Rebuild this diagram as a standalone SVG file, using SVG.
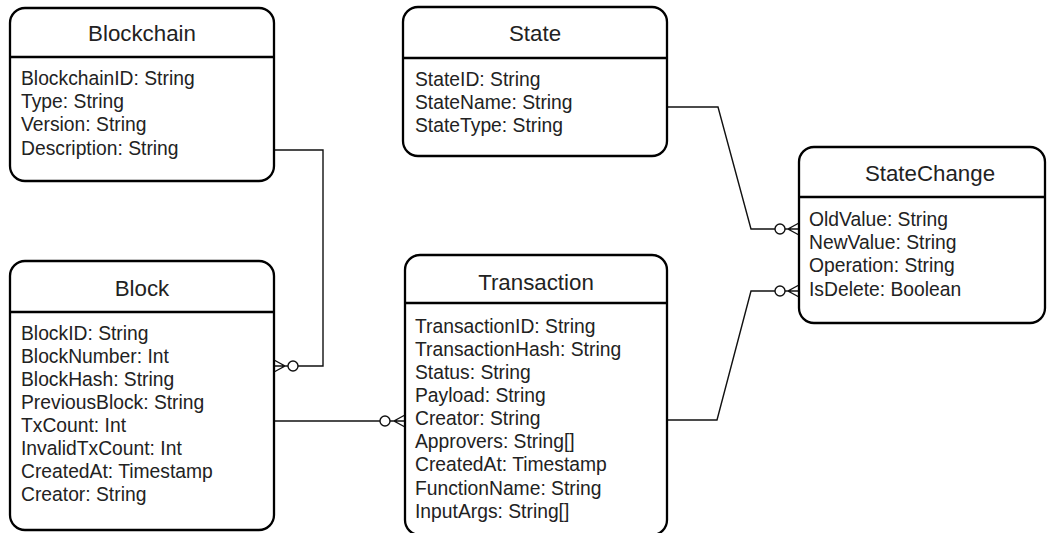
<svg xmlns="http://www.w3.org/2000/svg" width="1050" height="533" viewBox="0 0 1050 533">
<style>
.box{fill:#fff;stroke:#000;stroke-width:2.3}
.sep{stroke:#000;stroke-width:2.3}
.title{font-family:"Liberation Sans",Arial,sans-serif;font-size:22.3px;fill:#222;text-anchor:middle}
.attr{font-family:"Liberation Sans",Arial,sans-serif;font-size:19.3px;fill:#222}
.conn{fill:none;stroke:#111;stroke-width:1.4}
.circ{fill:#fff;stroke:#111;stroke-width:1.4}
</style>
<rect width="1050" height="533" fill="#fff"/>
<g id="connectors">
<polyline class="conn" points="274,150 323,150 323,366 298,366"/>
<path class="conn" d="M274,366 H288 M274,360 L285,366 L274,372"/>
<circle class="circ" cx="293" cy="366" r="5"/>
<polyline class="conn" points="274,421 380,421"/>
<path class="conn" d="M390,421 H405 M405,415 L394,421 L405,427"/>
<circle class="circ" cx="385" cy="421" r="5"/>
<polyline class="conn" points="667,107 718,107 751,229 775,229"/>
<path class="conn" d="M785,229 H799 M799,223 L788,229 L799,235"/>
<circle class="circ" cx="780" cy="229" r="5"/>
<polyline class="conn" points="667,420 717,420 751,291 775,291"/>
<path class="conn" d="M785,291 H799 M799,285 L788,291 L799,297"/>
<circle class="circ" cx="780" cy="291" r="5"/>
</g>
<g id="Blockchain">
<rect class="box" x="10" y="8" width="264" height="173" rx="15"/>
<line class="sep" x1="10" y1="57" x2="274" y2="57"/>
<text class="title" x="142" y="41">Blockchain</text>
<text class="attr" x="21" y="85">BlockchainID: String</text>
<text class="attr" x="21" y="108">Type: String</text>
<text class="attr" x="21" y="131">Version: String</text>
<text class="attr" x="21" y="155">Description: String</text>
</g>
<g id="State">
<rect class="box" x="403" y="7" width="264" height="149" rx="15"/>
<line class="sep" x1="403" y1="58" x2="667" y2="58"/>
<text class="title" x="535" y="41">State</text>
<text class="attr" x="415" y="86">StateID: String</text>
<text class="attr" x="415" y="109">StateName: String</text>
<text class="attr" x="415" y="132">StateType: String</text>
</g>
<g id="StateChange">
<rect class="box" x="799" y="147" width="246" height="176" rx="15"/>
<line class="sep" x1="799" y1="197" x2="1045" y2="197"/>
<text class="title" x="930" y="181">StateChange</text>
<text class="attr" x="809" y="226">OldValue: String</text>
<text class="attr" x="809" y="249">NewValue: String</text>
<text class="attr" x="809" y="272">Operation: String</text>
<text class="attr" x="809" y="296">IsDelete: Boolean</text>
</g>
<g id="Block">
<rect class="box" x="10" y="261" width="264" height="269" rx="15"/>
<line class="sep" x1="10" y1="312" x2="274" y2="312"/>
<text class="title" x="142" y="296">Block</text>
<text class="attr" x="21" y="340">BlockID: String</text>
<text class="attr" x="21" y="363">BlockNumber: Int</text>
<text class="attr" x="21" y="386">BlockHash: String</text>
<text class="attr" x="21" y="409">PreviousBlock: String</text>
<text class="attr" x="21" y="432">TxCount: Int</text>
<text class="attr" x="21" y="455">InvalidTxCount: Int</text>
<text class="attr" x="21" y="478">CreatedAt: Timestamp</text>
<text class="attr" x="21" y="501">Creator: String</text>
</g>
<g id="Transaction">
<rect class="box" x="405" y="255" width="262" height="280" rx="15"/>
<line class="sep" x1="405" y1="303" x2="667" y2="303"/>
<text class="title" x="536" y="290">Transaction</text>
<text class="attr" x="415" y="333">TransactionID: String</text>
<text class="attr" x="415" y="356">TransactionHash: String</text>
<text class="attr" x="415" y="379">Status: String</text>
<text class="attr" x="415" y="402">Payload: String</text>
<text class="attr" x="415" y="425">Creator: String</text>
<text class="attr" x="415" y="448">Approvers: String[]</text>
<text class="attr" x="415" y="471">CreatedAt: Timestamp</text>
<text class="attr" x="415" y="495">FunctionName: String</text>
<text class="attr" x="415" y="518">InputArgs: String[]</text>
</g>
</svg>
